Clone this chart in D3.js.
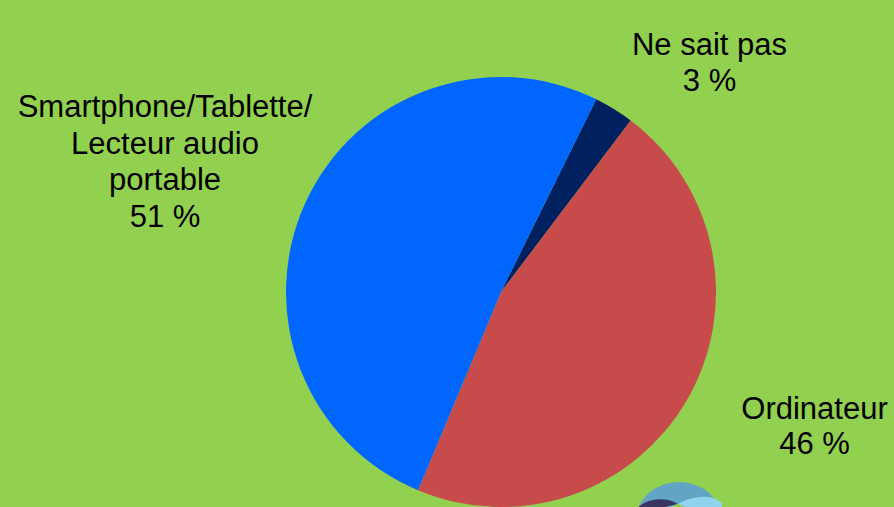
<!DOCTYPE html>
<html>
<head>
<meta charset="utf-8">
<script src="https://cdn.jsdelivr.net/npm/d3@7"></script>
<style>
  body { margin: 0; background: #92D050; }
  svg { display: block; }
  text { font-family: "Liberation Sans", Arial, sans-serif; fill: #000; }
</style>
</head>
<body>
<svg id="chart" width="894" height="507"></svg>
<script>
// data
var categories = ["Ne sait pas", "Ordinateur", "Smartphone/Tablette/Lecteur audio portable"];
var values = [3, 46, 51];
var labelLines = [
  ["Ne sait pas", "3 %"],
  ["Ordinateur", "46 %"],
  ["Smartphone/Tablette/", "Lecteur audio", "portable", "51 %"]
];
var colors = ["#002060", "#C84B4B", "#0066FF"];

var width = 894, height = 507;
var cx = 501, cy = 292, radius = 215;
var startAngle = 26.3 * Math.PI / 180;

var svg = d3.select("#chart");
svg.append("rect").attr("width", width).attr("height", height).attr("fill", "#92D050");

var pie = d3.pie().sort(null)
  .startAngle(startAngle)
  .endAngle(startAngle + 2 * Math.PI);
var arc = d3.arc().innerRadius(0).outerRadius(radius);

var data = categories.map(function(c, i) { return { name: c, value: values[i], i: i }; });

var g = svg.append("g").attr("transform", "translate(" + cx + "," + cy + ")");
g.selectAll("path.slice")
  .data(pie.value(function(d) { return d.value; })(data))
  .enter().append("path")
  .attr("class", "slice")
  .attr("d", arc)
  .attr("fill", function(d) { return colors[d.data.i]; });

// label positions (centre x, first baseline)
var labelPos = [[709.5, 55], [814.5, 419], [165, 117]];
var lineH = [36, 35, 36.7];
labelLines.forEach(function(lines, i) {
  var t = svg.append("text")
    .attr("text-anchor", "middle")
    .attr("font-size", 31);
  lines.forEach(function(l, k) {
    t.append("tspan")
      .attr("x", labelPos[i][0])
      .attr("y", labelPos[i][1] + k * lineH[i])
      .text(l);
  });
});

// logo fragment at bottom
var logo = svg.append("g").attr("transform", "translate(679,520)");
logo.append("ellipse").attr("rx", 43).attr("ry", 38).attr("fill", "#63A4C4");
logo.append("path")
  .attr("d", "M-43,-10 C-38,-20 -18,-24 -2,-18 L2,-13 L-6,-13 L-43,-13 Z")
  .attr("fill", "none");
logo.append("path")
  .attr("d", "M-43,-8 C-36,-20 -16,-24 -2,-16 C-8,-12 -12,-10 -16,-13 L-43,-13 Z")
  .attr("fill", "none");
// dark left part
logo.append("path")
  .attr("d", "M-43,-10 C-36,-20 -16,-25 -1,-16 C-6,-15 -10,-14 -14,-13 L-43,-13 Z")
  .attr("fill", "#3A3560");
// cyan right part
logo.append("path")
  .attr("d", "M-1,-16 C12,-24 32,-27 43,-17 L43,-13 L4,-13 C3,-14 1,-15 -1,-16 Z")
  .attr("fill", "#8FD3EC");
// green notch
logo.append("path")
  .attr("d", "M-8,-13 C-5,-15 -2,-15.5 -1,-16 C2,-15 4,-14 6,-13 Z")
  .attr("fill", "#92D050");
</script>
</body>
</html>
